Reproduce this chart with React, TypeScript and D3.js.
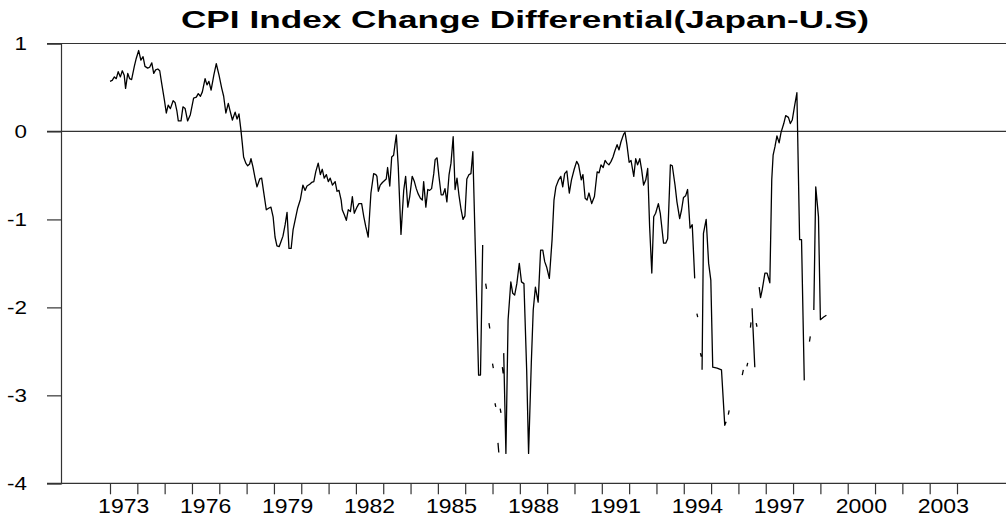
import * as d3 from "d3";
import { useEffect, useRef } from "react";

type Pt = [number, number | null];

// monthly-ish readings, [decimal year, differential]; null = missing value (line break)
const period1973_1977: Pt[] = [
  [1973.0, 0.57], [1973.08, 0.58], [1973.16, 0.62], [1973.23, 0.6], [1973.3, 0.68], [1973.38, 0.62],
  [1973.45, 0.69], [1973.52, 0.64], [1973.57, 0.49], [1973.65, 0.66], [1973.72, 0.6], [1973.79, 0.59],
  [1973.89, 0.74], [1973.96, 0.83], [1974.05, 0.92], [1974.13, 0.81], [1974.21, 0.85], [1974.28, 0.74],
  [1974.38, 0.72], [1974.45, 0.73], [1974.53, 0.78], [1974.6, 0.66], [1974.67, 0.7], [1974.75, 0.71],
  [1974.82, 0.69], [1974.89, 0.55], [1974.99, 0.36], [1975.06, 0.21], [1975.13, 0.3], [1975.21, 0.26],
  [1975.31, 0.35], [1975.38, 0.33], [1975.45, 0.23], [1975.5, 0.12], [1975.6, 0.12], [1975.67, 0.28],
  [1975.75, 0.26], [1975.84, 0.12], [1975.94, 0.19], [1976.06, 0.38], [1976.16, 0.39], [1976.23, 0.43],
  [1976.31, 0.4], [1976.38, 0.45], [1976.48, 0.6], [1976.55, 0.53], [1976.62, 0.57], [1976.7, 0.47],
  [1976.8, 0.64], [1976.89, 0.77], [1976.99, 0.64], [1977.09, 0.49], [1977.16, 0.4], [1977.24, 0.21],
  [1977.33, 0.32], [1977.39, 0.24], [1977.48, 0.13], [1977.58, 0.22], [1977.65, 0.14], [1977.72, 0.2],
  [1977.79, 0.02], [1977.84, -0.13], [1977.89, -0.29], [1977.97, -0.36],
];

const period1978_1981: Pt[] = [
  [1978.04, -0.39], [1978.11, -0.37], [1978.16, -0.31], [1978.23, -0.4], [1978.31, -0.53], [1978.38, -0.63],
  [1978.48, -0.54], [1978.55, -0.53], [1978.63, -0.7], [1978.72, -0.89], [1978.82, -0.87], [1978.89, -0.86],
  [1978.97, -0.97], [1979.04, -1.2], [1979.11, -1.3], [1979.19, -1.31], [1979.26, -1.25], [1979.33, -1.19],
  [1979.41, -1.06], [1979.48, -0.92], [1979.55, -1.33], [1979.63, -1.33], [1979.7, -1.12], [1979.8, -0.97],
  [1979.87, -0.87], [1979.97, -0.77], [1980.06, -0.61], [1980.14, -0.67], [1980.21, -0.62], [1980.31, -0.6],
  [1980.38, -0.58], [1980.46, -0.57], [1980.53, -0.46], [1980.62, -0.36], [1980.7, -0.49], [1980.77, -0.43],
  [1980.84, -0.53], [1980.92, -0.49], [1980.99, -0.57], [1981.06, -0.53], [1981.14, -0.61], [1981.24, -0.57],
  [1981.31, -0.68], [1981.38, -0.67], [1981.46, -0.78], [1981.5, -0.89], [1981.58, -0.95], [1981.65, -1.01],
  [1981.72, -0.89], [1981.8, -0.91], [1981.87, -0.74], [1981.94, -0.93],
];

const period1982_1986: Pt[] = [
  [1982.04, -0.86], [1982.11, -0.82], [1982.21, -0.82], [1982.29, -0.97], [1982.36, -1.08], [1982.45, -1.2],
  [1982.55, -0.7], [1982.65, -0.48], [1982.73, -0.49], [1982.77, -0.51], [1982.82, -0.68], [1982.89, -0.61],
  [1982.97, -0.58], [1983.04, -0.56], [1983.11, -0.54], [1983.16, -0.41], [1983.24, -0.62], [1983.31, -0.29],
  [1983.38, -0.27], [1983.43, -0.15], [1983.48, -0.04], [1983.55, -0.4], [1983.65, -1.17], [1983.75, -0.67],
  [1983.82, -0.51], [1983.9, -0.86], [1983.97, -0.74], [1984.06, -0.51], [1984.14, -0.57], [1984.21, -0.65],
  [1984.28, -0.71], [1984.36, -0.76], [1984.43, -0.78], [1984.48, -0.57], [1984.56, -0.86], [1984.63, -0.66],
  [1984.7, -0.67], [1984.77, -0.65], [1984.85, -0.48], [1984.9, -0.32], [1984.97, -0.3], [1985.04, -0.51],
  [1985.12, -0.72], [1985.19, -0.72], [1985.26, -0.65], [1985.33, -0.8], [1985.41, -0.49], [1985.48, -0.36],
  [1985.56, -0.06], [1985.63, -0.66], [1985.7, -0.53], [1985.77, -0.72], [1985.85, -0.89], [1985.92, -1.0],
  [1985.99, -0.96], [1986.06, -0.54], [1986.14, -0.49], [1986.21, -0.48], [1986.28, -0.23], [1986.49, -2.77],
  [1986.56, -2.77], [1986.64, -1.29], [1986.68, null],
];

const period1986_1990: Pt[] = [
  [1986.75, -1.73], [1986.78, -1.79], [1986.8, null],
  [1986.87, -2.18], [1986.9, -2.24], [1986.92, null],
  [1987.0, -2.64], [1987.03, -2.69], [1987.05, null],
  [1987.09, -3.09], [1987.12, -3.13], [1987.14, null],
  [1987.2, -3.54], [1987.23, -3.65], [1987.25, null],
  [1987.28, -3.15], [1987.31, -3.2], [1987.33, null],
  [1987.36, -2.68], [1987.39, -2.75], [1987.4, null],
  [1987.41, -2.52], [1987.49, -3.66], [1987.57, -2.14], [1987.67, -1.71], [1987.74, -1.84], [1987.81, -1.86],
  [1987.89, -1.73], [1987.98, -1.5], [1988.06, -1.71], [1988.15, -1.73], [1988.25, -2.71], [1988.32, -3.66],
  [1988.42, -2.63], [1988.49, -2.03], [1988.57, -1.77], [1988.67, -1.94], [1988.76, -1.35], [1988.84, -1.35],
  [1988.91, -1.48], [1988.98, -1.54], [1989.08, -1.67], [1989.18, -1.23], [1989.25, -0.78], [1989.32, -0.63],
  [1989.42, -0.55], [1989.5, -0.51], [1989.57, -0.63], [1989.64, -0.48], [1989.72, -0.45], [1989.81, -0.7],
  [1989.89, -0.55], [1989.99, -0.43],
];

const period1990_1994: Pt[] = [
  [1990.08, -0.34], [1990.15, -0.38], [1990.25, -0.55], [1990.31, -0.49], [1990.39, -0.76], [1990.46, -0.78],
  [1990.53, -0.7], [1990.63, -0.82], [1990.73, -0.74], [1990.83, -0.46], [1990.9, -0.47], [1990.97, -0.38],
  [1991.05, -0.41], [1991.12, -0.33], [1991.19, -0.36], [1991.26, -0.38], [1991.34, -0.34], [1991.41, -0.29],
  [1991.48, -0.22], [1991.56, -0.15], [1991.63, -0.21], [1991.7, -0.12], [1991.8, -0.03], [1991.85, -0.01],
  [1991.92, -0.15], [1992.0, -0.35], [1992.07, -0.33], [1992.17, -0.51], [1992.24, -0.31], [1992.31, -0.38],
  [1992.39, -0.31], [1992.46, -0.44], [1992.53, -0.61], [1992.61, -0.55], [1992.68, -0.42], [1992.75, -1.08],
  [1992.83, -1.61], [1992.9, -0.97], [1992.97, -0.93], [1993.07, -0.82], [1993.14, -0.93], [1993.26, -1.27],
  [1993.34, -1.27], [1993.41, -1.22], [1993.51, -0.38], [1993.58, -0.39], [1993.68, -0.61], [1993.75, -0.8],
  [1993.85, -0.99], [1993.92, -0.89], [1993.99, -0.75], [1994.07, -0.73], [1994.14, -0.66], [1994.23, -1.1],
  [1994.31, -1.06], [1994.4, -1.67], [1994.44, null],
];

const period1994_1999: Pt[] = [
  [1994.48, -2.07], [1994.51, -2.11], [1994.54, null],
  [1994.61, -2.52], [1994.64, -2.56], [1994.65, null],
  [1994.67, -2.71], [1994.72, -1.16], [1994.82, -1.0], [1994.91, -1.5], [1994.99, -1.69], [1995.06, -2.68],
  [1995.22, -2.69], [1995.38, -2.71], [1995.5, -3.34], [1995.55, -3.3], [1995.59, null],
  [1995.63, -3.22], [1995.66, -3.17], [1995.7, null],
  [1996.14, -2.77], [1996.18, -2.71], [1996.2, null],
  [1996.31, -2.67], [1996.34, -2.63], [1996.37, null],
  [1996.44, -2.23], [1996.46, -2.17], [1996.48, null],
  [1996.5, -2.01], [1996.6, -2.68], [1996.63, null],
  [1996.65, -2.18], [1996.68, -2.22], [1996.72, null],
  [1996.76, -1.77], [1996.81, -1.89], [1996.87, -1.8], [1996.97, -1.61], [1997.05, -1.61], [1997.15, -1.72],
  [1997.22, -0.55], [1997.27, -0.27], [1997.34, -0.17], [1997.41, -0.05], [1997.49, -0.13], [1997.56, -0.01],
  [1997.66, 0.09], [1997.73, 0.18], [1997.83, 0.16], [1997.9, 0.09], [1997.97, 0.13], [1998.05, 0.28],
  [1998.14, 0.44], [1998.24, -1.23], [1998.31, -1.23], [1998.41, -2.83], [1998.5, null],
  [1998.6, -2.39], [1998.63, -2.33], [1998.68, null],
  [1998.76, -2.03], [1998.83, -0.63], [1998.93, -0.97], [1999.0, -2.14], [1999.12, -2.11], [1999.22, -2.09],
];

const yTicks = [1, 0, -1, -2, -3, -4];
const yearTicks = d3.range(1973, 2005);
const yearLabels = [1973, 1976, 1979, 1982, 1985, 1988, 1991, 1994, 1997, 2000, 2003];

const W = 1006;
const H = 521;
const FONT = "'Liberation Sans', Arial, sans-serif";
const STRETCH = 1.18;

export default function App() {
  const ref = useRef<SVGSVGElement>(null);

  useEffect(() => {
    const svg = d3.select(ref.current);
    svg.selectAll("*").remove();

    const x = d3.scaleLinear().domain([1973, 2004]).range([110, 957]);
    const y = d3.scaleLinear().domain([-4, 1]).range([483.3, 43.5]);
    const left = 61;
    const right = W;
    const axisColor = "#333";

    // title (the original is drawn wide)
    svg.append("text")
      .attr("transform", `translate(525, 27.5) scale(1.53,1)`)
      .attr("text-anchor", "middle")
      .style("font-family", FONT)
      .style("font-weight", "bold")
      .style("font-size", "23px")
      .text("CPI Index Change Differential(Japan-U.S)");

    // full width rules at 1, 0 and -4
    [1, 0, -4].forEach((v) => {
      svg.append("line")
        .attr("x1", left - 14).attr("x2", right)
        .attr("y1", y(v)).attr("y2", y(v))
        .attr("stroke", axisColor).attr("stroke-width", 1.2);
    });

    // left axis
    const yAxis = d3.axisLeft(y).tickValues(yTicks).tickSize(14).tickFormat(() => "");
    const gy = svg.append("g").attr("transform", `translate(${left},0)`).call(yAxis);
    gy.select(".domain").attr("stroke", axisColor).attr("stroke-width", 1.2);
    gy.selectAll(".tick line").attr("stroke", axisColor).attr("stroke-width", 1.2);

    yTicks.forEach((v) => {
      svg.append("text")
        .attr("transform", `translate(27, ${y(v)}) scale(${STRETCH},1)`)
        .attr("text-anchor", "end")
        .attr("dy", "0.36em")
        .style("font-family", FONT)
        .style("font-size", "19px")
        .text(String(v));
    });

    // bottom year ticks
    const xAxis = d3.axisBottom(x).tickValues(yearTicks).tickSize(11).tickFormat(() => "");
    const gx = svg.append("g").attr("transform", `translate(0, ${y(-4)})`).call(xAxis);
    gx.select(".domain").remove();
    gx.selectAll(".tick line").attr("stroke", axisColor).attr("stroke-width", 1.2);

    yearLabels.forEach((yr) => {
      svg.append("text")
        .attr("transform", `translate(${x(yr + 0.5)}, 513) scale(${STRETCH},1)`)
        .attr("text-anchor", "middle")
        .style("font-family", FONT)
        .style("font-size", "19.5px")
        .text(String(yr));
    });

    // series
    const series: Pt[] = [
      ...period1973_1977,
      ...period1978_1981,
      ...period1982_1986,
      ...period1986_1990,
      ...period1990_1994,
      ...period1994_1999,
    ];
    const line = d3.line<Pt>()
      .defined((d) => d[1] !== null)
      .x((d) => x(d[0]))
      .y((d) => y(d[1] as number));

    svg.append("path")
      .datum(series)
      .attr("d", line)
      .attr("fill", "none")
      .attr("stroke", "#000")
      .attr("stroke-width", 1.3)
      .attr("stroke-linejoin", "round");
  }, []);

  return (
    <svg
      ref={ref}
      width={W}
      height={H}
      style={{ position: "absolute", left: 0, top: 0, background: "#fff" }}
    />
  );
}
